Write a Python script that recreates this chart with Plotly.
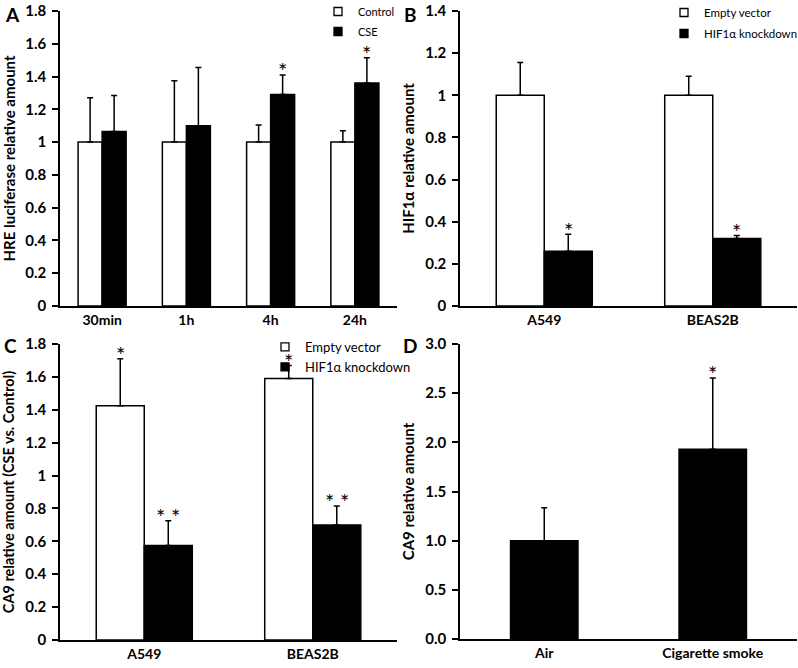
import plotly.graph_objects as go

# ---------------- data ----------------
A_cats = ["30min", "1h", "4h", "24h"]
A_control = [1.0, 1.0, 1.0, 1.0]
A_control_err = [0.27, 0.375, 0.105, 0.07]
A_cse = [1.065, 1.10, 1.29, 1.36]
A_cse_err = [0.22, 0.355, 0.12, 0.155]
A_cse_star = ["", "", "*", "*"]

B_cats = ["A549", "BEAS2B"]
B_empty = [1.0, 1.0]
B_empty_err = [0.155, 0.09]
B_kd = [0.26, 0.32]
B_kd_err = [0.08, 0.015]
B_kd_star = ["*", "*"]

C_cats = ["A549", "BEAS2B"]
C_empty = [1.425, 1.59]
C_empty_err = [0.285, 0.08]
C_kd = [0.575, 0.70]
C_kd_err = [0.15, 0.115]
C_empty_star = ["*", "*"]
C_kd_star = ["* *", "* *"]

D_cats = ["Air", "Cigarette smoke"]
D_vals = [1.0, 1.93]
D_err = [0.335, 0.725]
D_star = ["", "*"]

A_ticks = [0, 0.2, 0.4, 0.6, 0.8, 1, 1.2, 1.4, 1.6, 1.8]
A_ticktext = ["0", "0.2", "0.4", "0.6", "0.8", "1", "1.2", "1.4", "1.6", "1.8"]
B_ticks = [0, 0.2, 0.4, 0.6, 0.8, 1, 1.2, 1.4]
B_ticktext = ["0", "0.2", "0.4", "0.6", "0.8", "1", "1.2", "1.4"]
D_ticks = [0, 0.5, 1.0, 1.5, 2.0, 2.5, 3.0]
D_ticktext = ["0.0", "0.5", "1.0", "1.5", "2.0", "2.5", "3.0"]

# ---------------- style ----------------
W, H = 798, 668
FONT = "Lato"
WHITE_BAR = dict(color="white", line=dict(color="black", width=1.5))
BLACK_BAR = dict(color="black", line=dict(color="black", width=1.5))


def err(vals):
    return dict(type="data", symmetric=False, array=vals, arrayminus=[0] * len(vals),
                color="black", thickness=1.5, width=3)


fig = go.Figure()

GW = 0.285  # grouped bar width (category units)

# Panel A
fig.add_trace(go.Bar(x=A_cats, y=A_control, width=GW, offset=-GW, marker=WHITE_BAR,
                     error_y=err(A_control_err), showlegend=False, xaxis="x", yaxis="y"))
fig.add_trace(go.Bar(x=A_cats, y=A_cse, width=GW, offset=0, marker=BLACK_BAR,
                     error_y=err(A_cse_err), showlegend=False, xaxis="x", yaxis="y"))
# Panel B
fig.add_trace(go.Bar(x=B_cats, y=B_empty, width=GW, offset=-GW, marker=WHITE_BAR,
                     error_y=err(B_empty_err), showlegend=False, xaxis="x2", yaxis="y2"))
fig.add_trace(go.Bar(x=B_cats, y=B_kd, width=GW, offset=0, marker=BLACK_BAR,
                     error_y=err(B_kd_err), showlegend=False, xaxis="x2", yaxis="y2"))
# Panel C
fig.add_trace(go.Bar(x=C_cats, y=C_empty, width=GW, offset=-GW, marker=WHITE_BAR,
                     error_y=err(C_empty_err), showlegend=False, xaxis="x3", yaxis="y3"))
fig.add_trace(go.Bar(x=C_cats, y=C_kd, width=GW, offset=0, marker=BLACK_BAR,
                     error_y=err(C_kd_err), showlegend=False, xaxis="x3", yaxis="y3"))
# Panel D
DW = 0.40
fig.add_trace(go.Bar(x=D_cats, y=D_vals, width=DW, offset=-DW / 2, marker=BLACK_BAR,
                     error_y=err(D_err), showlegend=False, xaxis="x4", yaxis="y4"))


# legend entries
def leg_entry(name, fill, legend, group, xa, ya):
    fig.add_trace(go.Scatter(x=[None], y=[None], mode="markers", name=name,
                             marker=dict(symbol="square", size=8, color=fill,
                                         line=dict(color="black", width=1.3)),
                             legend=legend, legendgroup=group, xaxis=xa, yaxis=ya))


leg_entry("Control", "white", "legend", "a1", "x", "y")
leg_entry("CSE", "black", "legend", "a2", "x", "y")
leg_entry("Empty vector", "white", "legend2", "b1", "x2", "y2")
leg_entry("HIF1α knockdown", "black", "legend2", "b2", "x2", "y2")
leg_entry("Empty vector", "white", "legend3", "c1", "x3", "y3")
leg_entry("HIF1α knockdown", "black", "legend3", "c2", "x3", "y3")

# star annotations
annotations = []


def stars(labels, vals, errs, off, xref, yref):
    for i, (s, v, e) in enumerate(zip(labels, vals, errs)):
        if s:
            annotations.append(dict(x=i + off, y=v + e, xref=xref, yref=yref, text=s,
                                    showarrow=False, yanchor="middle", yshift=10,
                                    height=15, valign="top", borderpad=0,
                                    font=dict(family=FONT, size=22, color="black")))


stars(A_cse_star, A_cse, A_cse_err, GW / 2, "x", "y")
stars(B_kd_star, B_kd, B_kd_err, GW / 2, "x2", "y2")
stars(C_empty_star, C_empty, C_empty_err, -GW / 2, "x3", "y3")
stars(C_kd_star, C_kd, C_kd_err, GW / 2, "x3", "y3")
stars(D_star, D_vals, D_err, 0, "x4", "y4")

# panel letters
for letter, px, py in [("A", 12, 15), ("B", 410, 15), ("C", 10, 345), ("D", 410, 345)]:
    annotations.append(dict(x=px / W, y=1 - py / H, xref="paper", yref="paper", text=letter,
                            showarrow=False, xanchor="center", yanchor="middle",
                            font=dict(family=FONT, size=19, color="black", weight="bold")))

TICKFONT = dict(family=FONT, size=15, color="black", weight="bold")
XTICKFONT = dict(family=FONT, size=14, color="black", weight="bold")


def xaxis(dom, n, anchor):
    return dict(domain=dom, anchor=anchor, type="category", range=[-0.5, n - 0.5],
                showline=True, linecolor="black", linewidth=1.5, ticks="",
                showgrid=False, zeroline=False, tickfont=XTICKFONT, fixedrange=True)


def yaxis(dom, rng, tv, tt, title, anchor, tsize=15, standoff=7):
    return dict(domain=dom, anchor=anchor, range=rng, tickvals=tv, ticktext=tt,
                showline=True, linecolor="black", linewidth=1.5, ticks="outside",
                ticklen=6, tickwidth=1.5, tickcolor="black", showgrid=False,
                zeroline=False, tickfont=TICKFONT, ticklabelstandoff=3,
                title=dict(text=title, standoff=standoff,
                           font=dict(family=FONT, size=tsize, color="black", weight="bold")))


XL = [60 / W, 397 / W]
XR = [460 / W, 797 / W]
YT = [1 - 306 / H, 1 - 11 / H]
YB = [1 - 640 / H, 1 - 344 / H]
YBD = [1 - 639 / H, 1 - 344 / H]

legend_common = dict(bgcolor="rgba(0,0,0,0)", borderwidth=0,
                     itemwidth=30, xanchor="left", yanchor="top", itemclick=False)

fig.update_layout(
    width=W, height=H,
    margin=dict(l=0, r=0, t=0, b=0, autoexpand=False),
    paper_bgcolor="white", plot_bgcolor="white",
    font=dict(family=FONT, color="black"),
    xaxis=xaxis(XL, 4, "y"),
    yaxis=yaxis(YT, [0, 1.8], A_ticks, A_ticktext, "HRE luciferase relative amount", "x"),
    xaxis2=xaxis(XR, 2, "y2"),
    yaxis2=yaxis(YT, [0, 1.4], B_ticks, B_ticktext, "HIF1α relative amount", "x2"),
    xaxis3=xaxis(XL, 2, "y3"),
    yaxis3=yaxis(YB, [0, 1.8], A_ticks, A_ticktext, "CA9 relative amount (CSE vs. Control)",
                 "x3", 14.5, 13),
    xaxis4=xaxis(XR, 2, "y4"),
    yaxis4=yaxis(YBD, [0, 3.0], D_ticks, D_ticktext, "CA9 relative amount", "x4"),
    legend=dict(x=318 / W, y=1 + 3 / H, tracegroupgap=1,
                font=dict(family=FONT, size=11, color="black"), **legend_common),
    legend2=dict(x=664 / W, y=1 + 2 / H, tracegroupgap=2,
                 font=dict(family=FONT, size=11.5, color="black"), **legend_common),
    legend3=dict(x=265 / W, y=1 - 332 / H, tracegroupgap=0,
                 font=dict(family=FONT, size=13, color="black"), **legend_common),
    annotations=annotations,
    showlegend=True,
)

fig.write_html("out.html", config={"displayModeBar": False},
               post_script="document.body.style.margin='0';")
